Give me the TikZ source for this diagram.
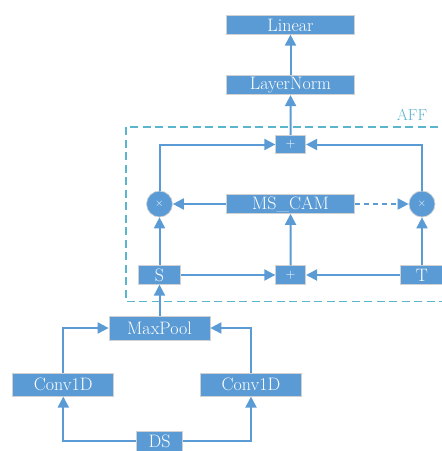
\documentclass[tikz,border=0pt]{standalone}
\usepackage{fontspec}
\usetikzlibrary{arrows.meta}
\definecolor{boxblue}{HTML}{5B9BD5}
\definecolor{affteal}{HTML}{5BB5CC}
\begin{document}
\begin{tikzpicture}[x=1pt,y=-1pt,
  blk/.style={rectangle, fill=boxblue, draw=black!18, line width=0.7pt, text=white,
    font=\fontsize{18}{19}\selectfont, inner sep=0pt},
  crc/.style={circle, fill=boxblue, draw=black!18, line width=0.7pt, minimum size=26pt,
    inner sep=0pt, text=white, font=\fontsize{11}{12}\selectfont},
  pls/.style={blk, minimum width=30pt, minimum height=18.5pt, font=\fontsize{13}{14}\selectfont},
  arr/.style={draw=boxblue, line width=2pt, -{Triangle[length=11pt,width=11pt]}},
  affbox/.style={draw=affteal, line width=1.6pt, dash pattern=on 8pt off 4.5pt}]
\useasboundingbox (0,0) rectangle (442,451);
\clip (0,0) rectangle (442,451);
% AFF region
\draw[affbox] (126,127) rectangle (470,301.5);
\node[text=affteal, font=\fontsize{16}{18}\selectfont] (aff) at (412,115) {AFF};
% nodes
\node[blk, minimum width=128pt, minimum height=18.5pt] (lin) at (290.5,25) {Linear};
\node[blk, minimum width=128pt, minimum height=19.5pt] (ln) at (290.5,85) {LayerNorm};
\node[pls] (tp) at (290.7,144.5) {+};
\node[crc] (lx) at (159.5,204) {$\times$};
\node[crc] (rx) at (422,204) {$\times$};
\node[blk, minimum width=128pt, minimum height=19pt] (ms) at (290.5,204) {MS\_CAM};
\node[blk, minimum width=42pt, minimum height=18.6pt] (s) at (159.5,275) {S};
\node[pls] (mp) at (290.7,275) {+};
\node[blk, minimum width=43pt, minimum height=18.6pt] (t) at (422,275) {T};
\node[blk, minimum width=101pt, minimum height=24pt] (pool) at (159.5,328) {MaxPool};
\node[blk, minimum width=101pt, minimum height=23pt] (c1) at (63.3,384.7) {Conv1D};
\node[blk, minimum width=101pt, minimum height=23pt] (c2) at (251,384.7) {Conv1D};
\node[blk, minimum width=46pt, minimum height=20pt, anchor=north] (ds) at (159.5,431) {DS};
% connectors
\draw[arr] (ln) -- (lin);
\draw[arr] (tp) -- (ln);
\draw[arr] (lx.north) |- (tp.west);
\draw[arr] (rx.north) |- (tp.east);
\draw[arr] (ms.west) -- (lx.east);
\draw[arr, dash pattern=on 5pt off 4pt] (ms.east) -- (rx.west);
\draw[arr] (s) -- (lx);
\draw[arr] (s) -- (mp);
\draw[arr] (t) -- (mp);
\draw[arr] (mp) -- (ms);
\draw[arr] (t) -- (rx);
\draw[arr] (pool) -- (s);
\draw[arr] (c1.north) |- (pool.west);
\draw[arr] (c2.north) |- (pool.east);
\draw[arr] (ds.west) -| (c1.south);
\draw[arr] (ds.east) -| (c2.south);
\end{tikzpicture}
\end{document}
